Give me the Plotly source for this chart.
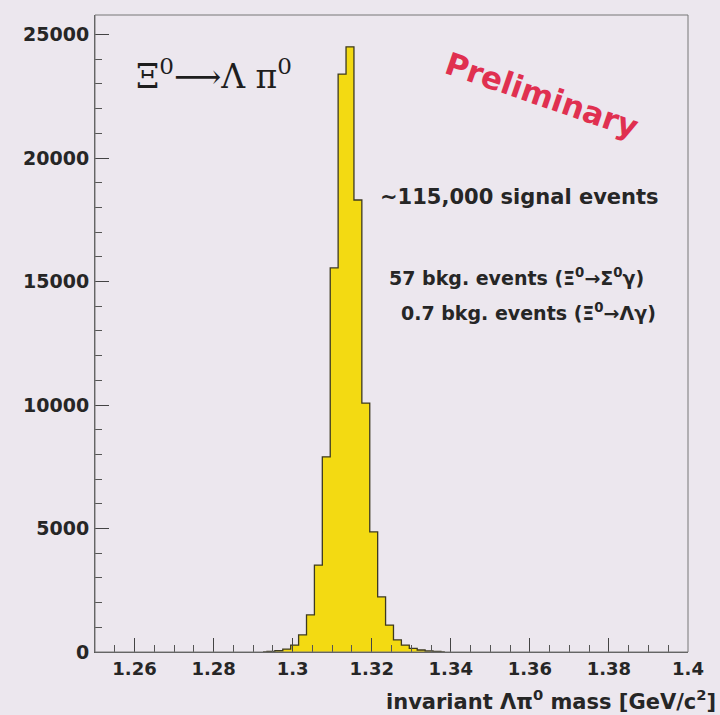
import plotly.graph_objects as go

# Histogram of invariant Lambda pi0 mass (bin width 0.002 GeV/c^2)
bin_centers = [1.2925, 1.2945, 1.2965, 1.2985, 1.3005, 1.3025, 1.3045, 1.3065, 1.3085,
               1.3105, 1.3125, 1.3145, 1.3165, 1.3185, 1.3205, 1.3225, 1.3245, 1.3265,
               1.3285, 1.3305, 1.3325, 1.3345, 1.3365, 1.3385]
counts = [0, 20, 50, 120, 280, 690, 1500, 3520, 7900,
          15550, 23400, 24500, 18300, 10080, 4860, 2230, 1090, 490,
          280, 150, 80, 40, 20, 0]

x_tick_vals = [1.26, 1.28, 1.30, 1.32, 1.34, 1.36, 1.38, 1.40]
x_tick_text = ["1.26", "1.28", "1.3", "1.32", "1.34", "1.36", "1.38", "1.4"]
y_tick_vals = [0, 5000, 10000, 15000, 20000, 25000]
y_tick_text = ["0", "5000", "10000", "15000", "20000", "25000"]

bg = "#ece7ee"
txt = "#262626"
sans = "DejaVu Sans"

fig = go.Figure()
fig.add_trace(go.Scatter(
    x=bin_centers, y=counts, mode="lines", line_shape="hvh",
    line=dict(color="#3d3a20", width=1.3),
    fill="tozeroy", fillcolor="#f3da12", hoverinfo="skip", showlegend=False))

fig.update_layout(
    width=720, height=715,
    margin=dict(l=95, r=32, t=15, b=63),
    paper_bgcolor=bg, plot_bgcolor=bg,
    font=dict(family=sans, color=txt),
)
fig.update_xaxes(
    range=[1.25, 1.40], tickvals=x_tick_vals, ticktext=x_tick_text,
    ticks="inside", ticklen=14, tickcolor="#444", tickwidth=1,
    minor=dict(ticks="inside", dtick=0.005, ticklen=7, tickcolor="#555", tickwidth=1),
    showline=True, linecolor="#555", linewidth=1, mirror=False,
    showgrid=False, zeroline=False,
    tickfont=dict(family=sans, size=18, weight="bold", color=txt),
)
fig.update_yaxes(
    range=[0, 25790], tickvals=y_tick_vals, ticktext=y_tick_text,
    ticks="inside", ticklen=14, tickcolor="#444", tickwidth=1,
    minor=dict(ticks="inside", dtick=1000, ticklen=7, tickcolor="#555", tickwidth=1),
    showline=True, linecolor="#555", linewidth=1, mirror=False,
    showgrid=False, zeroline=False, ticklabelstandoff=1,
    tickfont=dict(family=sans, size=19, weight="bold", color=txt),
)
# frame (top and right edges)
fig.add_shape(type="rect", xref="paper", yref="paper", x0=0, y0=0, x1=1, y1=1,
              line=dict(color="#777", width=1), layer="above")

fig.add_annotation(x=1.2801, y=23380, xref="x", yref="y", showarrow=False,
                   text="Ξ<sup>0</sup>⟶Λ π<sup>0</sup>",
                   font=dict(family="DejaVu Serif", size=33, color="#1e1e1e"))
fig.add_annotation(x=1.3630, y=22550, xref="x", yref="y", showarrow=False,
                   text="Preliminary", textangle=19,
                   font=dict(family=sans, size=31, weight="bold", color="#e03050"))
fig.add_annotation(x=1.3575, y=18420, xref="x", yref="y", showarrow=False,
                   text="~115,000 signal events",
                   font=dict(family=sans, size=21, weight="bold", color=txt))
fig.add_annotation(x=1.3565, y=15180, xref="x", yref="y", showarrow=False,
                   text="57 bkg. events (Ξ<sup>0</sup>→Σ<sup>0</sup>γ)",
                   font=dict(family=sans, size=19, weight="bold", color=txt))
fig.add_annotation(x=1.3597, y=13765, xref="x", yref="y", showarrow=False,
                   text="0.7 bkg. events (Ξ<sup>0</sup>→Λγ)",
                   font=dict(family=sans, size=19, weight="bold", color=txt))
fig.add_annotation(x=1.050, y=-0.075, xref="paper", yref="paper", showarrow=False,
                   xanchor="right", yanchor="middle",
                   text="invariant Λπ<sup>0</sup> mass [GeV/c<sup>2</sup>]",
                   font=dict(family=sans, size=21, weight="bold", color=txt))

fig.write_html("out.html")
